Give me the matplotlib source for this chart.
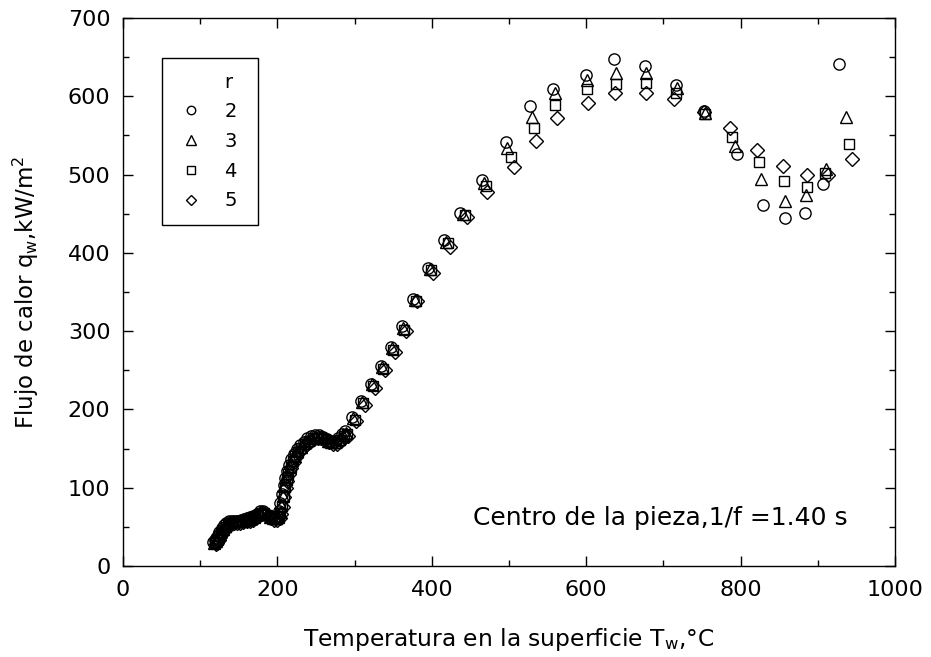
#!/usr/bin/env python3
"""Plot surface heat flux against surface temperature for several r."""

from matplotlib import pyplot as plt
from matplotlib.lines import Line2D
from matplotlib.ticker import MultipleLocator

# Surface temperature (degC) and heat flux (kW/m2), one pair per r
temp_r2 = [117, 119, 121, 123, 125, 128, 131, 134, 137, 141, 145, 149, 153,
           157, 161, 165, 169, 173, 177, 181, 185, 189, 193, 197, 200, 202,
           204, 206, 208, 210, 212, 215, 218, 221, 225, 229, 234, 239, 244,
           249, 254, 259, 264, 269, 274, 279, 284,
           288, 297, 308, 321, 334, 347, 361, 376, 395, 416, 437, 465, 496,
           527, 557, 600, 636, 676, 716, 752, 795, 829, 857, 883, 907, 927]
flux_r2 = [31, 33, 36, 40, 44, 48, 52, 55, 57, 58, 58, 58, 59,
           60, 61, 62, 64, 67, 70, 70, 67, 64, 62, 62, 64, 70,
           80, 92, 104, 113, 121, 129, 137, 143, 149, 154, 159, 163, 166,
           167, 167, 165, 162, 160, 160, 164, 169,
           172, 190, 211, 233, 256, 280, 306, 341, 381, 416, 451, 493, 542,
           588, 609, 627, 647, 639, 614, 581, 526, 461, 444, 451, 488, 641]

temp_r3 = [118, 120, 122, 124, 126, 129, 132, 135, 138, 142, 146, 150, 154,
           158, 162, 166, 170, 174, 178, 182, 186, 190, 194, 198, 201, 203,
           205, 207, 209, 211, 213, 216, 219, 222, 226, 230, 235, 240, 245,
           250, 255, 260, 265, 270, 275, 280, 285,
           289, 298, 310, 323, 336, 349, 363, 378, 398, 419, 441, 468, 498,
           530, 559, 601, 638, 678, 718, 754, 793, 827, 857, 885, 911, 937]
flux_r3 = [30, 32, 35, 39, 43, 47, 51, 54, 56, 57, 57, 57, 58,
           59, 60, 61, 63, 66, 69, 69, 66, 63, 61, 61, 63, 69,
           78, 90, 102, 111, 119, 127, 135, 141, 147, 152, 157, 161, 164,
           165, 165, 163, 160, 158, 158, 162, 167,
           170, 189, 210, 232, 254, 278, 304, 340, 380, 414, 450, 489, 534,
           574, 604, 621, 630, 630, 611, 579, 536, 494, 466, 474, 507, 573]

temp_r4 = [119, 121, 123, 125, 127, 130, 133, 136, 139, 143, 147, 151, 155,
           159, 163, 167, 171, 175, 179, 183, 187, 191, 195, 199, 202, 204,
           206, 208, 210, 212, 214, 217, 220, 223, 227, 231, 236, 241, 246,
           251, 256, 261, 266, 271, 276, 281, 286,
           290, 300, 311, 324, 337, 350, 364, 379, 399, 421, 443, 470, 503,
           532, 560, 601, 638, 678, 716, 754, 789, 824, 856, 886, 910, 940]
flux_r4 = [29, 31, 34, 38, 42, 46, 50, 53, 55, 56, 56, 56, 57,
           58, 59, 60, 62, 65, 68, 68, 65, 62, 60, 60, 62, 68,
           77, 89, 101, 110, 118, 126, 134, 140, 146, 151, 156, 160, 163,
           164, 164, 162, 159, 157, 157, 161, 166,
           169, 187, 208, 230, 252, 276, 302, 339, 378, 412, 448, 486, 523,
           559, 589, 609, 616, 617, 604, 578, 548, 516, 492, 484, 502, 539]

temp_r5 = [120, 122, 124, 126, 128, 131, 134, 137, 140, 144, 148, 152, 156,
           160, 164, 168, 172, 176, 180, 184, 188, 192, 196, 200, 203, 205,
           207, 209, 211, 213, 215, 218, 221, 224, 228, 232, 237, 242, 247,
           252, 257, 262, 267, 272, 277, 282, 287,
           292, 302, 313, 326, 339, 352, 366, 381, 401, 423, 446, 472, 506,
           535, 562, 602, 637, 677, 714, 752, 786, 821, 855, 886, 913, 944]
flux_r5 = [28, 30, 33, 37, 41, 45, 49, 52, 54, 55, 55, 55, 56,
           57, 58, 59, 61, 64, 67, 67, 64, 61, 59, 59, 61, 67,
           76, 88, 100, 109, 117, 125, 133, 139, 145, 150, 155, 159, 162,
           163, 163, 161, 158, 156, 156, 160, 165,
           166, 185, 206, 228, 250, 274, 300, 338, 374, 408, 446, 478, 510,
           543, 572, 592, 604, 604, 597, 580, 559, 532, 511, 499, 500, 520]

r_labels = ["2", "3", "4", "5"]


def main():
    plt.rcParams["font.family"] = ["DejaVu Sans"]

    fig = plt.figure(figsize=(9.31, 6.57), dpi=100)
    ax = fig.add_axes([0.1321, 0.1385, 0.8292, 0.8341])

    series = [
        (temp_r2, flux_r2, "o", 8.1),
        (temp_r3, flux_r3, "^", 9.2),
        (temp_r4, flux_r4, "s", 7.7),
        (temp_r5, flux_r5, "D", 7.1),
    ]
    handles = [Line2D([], [], linestyle="none")]
    for (t, q, marker, size), label in zip(series, r_labels):
        line, = ax.plot(t, q, linestyle="none", marker=marker,
                        markersize=size, markerfacecolor="none",
                        markeredgecolor="black", markeredgewidth=1.0,
                        label=label)
        handles.append(line)

    ax.set_xlim(0, 1000)
    ax.set_ylim(0, 700)
    ax.xaxis.set_major_locator(MultipleLocator(200))
    ax.xaxis.set_minor_locator(MultipleLocator(100))
    ax.yaxis.set_major_locator(MultipleLocator(100))
    ax.yaxis.set_minor_locator(MultipleLocator(50))
    ax.tick_params(which="both", direction="in", top=True, right=True,
                   width=1.0, labelsize=16)
    ax.tick_params(which="major", length=7)
    ax.tick_params(which="minor", length=4.5)
    ax.tick_params(axis="x", which="major", pad=10)
    ax.tick_params(axis="y", which="major", pad=9)
    for spine in ax.spines.values():
        spine.set_linewidth(1.0)

    ax.set_xlabel(r"Temperatura en la superficie T$\mathregular{_w}$,°C",
                  fontsize=16.8, labelpad=19)
    ax.set_ylabel(r"Flujo de calor q$\mathregular{_w}$,kW/m$\mathregular{^2}$",
                  fontsize=16.5, labelpad=19)

    ax.text(0.939, 0.088, "Centro de la pieza,1/f =1.40 s", ha="right",
            va="center", transform=ax.transAxes, fontsize=18)

    # legend: header row "r" has no marker, labels padded on the right
    leg = ax.legend(handles, [s + " " for s in ["r"] + r_labels],
                    loc="upper left", bbox_to_anchor=(0.05, 0.927),
                    fancybox=False, edgecolor="black", framealpha=1,
                    markerscale=0.75, handlelength=1.5, handletextpad=1.0,
                    labelspacing=0.55, borderpad=0.75, borderaxespad=0,
                    fontsize=14)
    leg.get_frame().set_linewidth(1.0)

    fig.savefig("out.png", dpi=100)


if __name__ == "__main__":
    main()
